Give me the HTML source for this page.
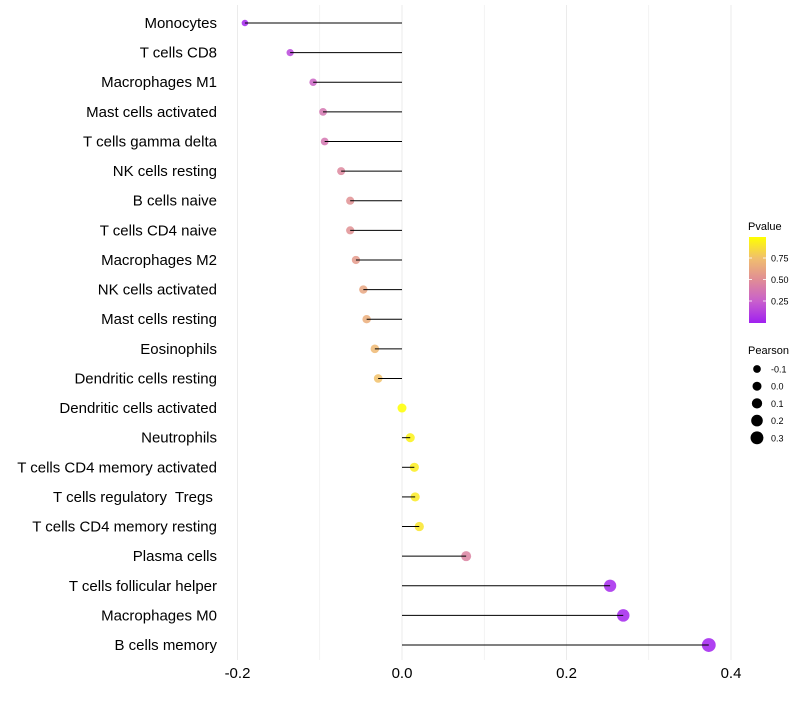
<!DOCTYPE html>
<html><head><meta charset="utf-8"><style>
body{margin:0;background:#fff;font-family:"Liberation Sans",sans-serif;}
text{white-space:pre;}
</style></head><body>
<svg id="chart" width="800" height="700" xmlns="http://www.w3.org/2000/svg"></svg>
<script>
const categories=["Monocytes","T cells CD8","Macrophages M1","Mast cells activated","T cells gamma delta","NK cells resting","B cells naive","T cells CD4 naive","Macrophages M2","NK cells activated","Mast cells resting","Eosinophils","Dendritic cells resting","Dendritic cells activated","Neutrophils","T cells CD4 memory activated","T cells regulatory  Tregs ","T cells CD4 memory resting","Plasma cells","T cells follicular helper","Macrophages M0","B cells memory"];
const pearson=[-0.191,-0.136,-0.108,-0.096,-0.094,-0.074,-0.063,-0.063,-0.056,-0.047,-0.043,-0.033,-0.029,0.0,0.01,0.015,0.016,0.021,0.078,0.253,0.269,0.373];
const pvalues=[0.02,0.15,0.28,0.38,0.38,0.47,0.52,0.52,0.57,0.63,0.67,0.72,0.76,1.0,0.95,0.93,0.92,0.9,0.45,0.03,0.02,0.005];
const xTicks=[-0.2,0,0.2,0.4];
const xTickLabels=["-0.2","0.0","0.2","0.4"];
const colorTicks=[0.25,0.5,0.75];
const sizeLegend=[-0.1,0,0.1,0.2,0.3];

const svg=document.getElementById('chart');
const NS="http://www.w3.org/2000/svg";
function mk(t,a,parent){const e=document.createElementNS(NS,t);for(const k in a)e.setAttribute(k,a[k]);(parent||svg).appendChild(e);return e;}
const xScale=v=>402+v*822.5;
const yScale=i=>23+i*29.62;
const rScale=v=>Math.max(1.5,4.5+v*6.5);
const stops=[[0,[160,32,240]],[0.25,[200,95,205]],[0.5,[224,140,150]],[0.75,[240,190,110]],[1,[255,255,0]]];
function col(p){for(let i=1;i<stops.length;i++){if(p<=stops[i][0]){const a=stops[i-1],b=stops[i];const t=(p-a[0])/(b[0]-a[0]);const c=a[1].map((v,k)=>Math.round(v+(b[1][k]-v)*t));return `rgb(${c})`;}}return 'rgb(255,255,0)';}

[-0.3,-0.2,-0.1,0,0.1,0.2,0.3,0.4,0.5].forEach(v=>{const x=xScale(v);if(x<226||x>785)return;
const g=mk('line',{x1:x,x2:x,y1:5,y2:660,stroke:'#ebebeb','stroke-width':xTicks.includes(v)?1:0.6});

});

categories.forEach((c,i)=>{const y=yScale(i);
const t=mk('text',{x:217,y:y+5,'text-anchor':'end','font-size':15,fill:'#000','xml:space':'preserve'});t.textContent=c;


const d=mk('circle',{cx:xScale(pearson[i]),cy:y,r:rScale(pearson[i]),fill:col(pvalues[i]),'fill-opacity':0.85});


const l=mk('line',{x1:xScale(0),x2:xScale(pearson[i]),y1:y,y2:y,stroke:'#000','stroke-width':1});

});

xTicks.forEach((v,i)=>{const t=mk('text',{x:xScale(v),y:678,'text-anchor':'middle','font-size':15,fill:'#000'});t.textContent=xTickLabels[i];

});

const lt=mk('text',{x:748,y:230,'font-size':11,fill:'#000'});lt.textContent='Pvalue';


const defs=mk('defs',{});const grad=mk('linearGradient',{id:'pg',x1:0,y1:1,x2:0,y2:0},defs);
stops.forEach(s=>mk('stop',{offset:s[0],'stop-color':col(s[0])},grad));
const cb=mk('rect',{x:749,y:237,width:17,height:86,fill:'url(#pg)'});


colorTicks.forEach(v=>{const y=322.5-v*86;
mk('line',{x1:749,x2:752,y1:y,y2:y,stroke:'#fff','stroke-width':0.8});mk('line',{x1:763,x2:766,y1:y,y2:y,stroke:'#fff','stroke-width':0.8});
const t=mk('text',{x:771,y:y+3.5,'font-size':9,fill:'#000'});t.textContent=v.toFixed(2);

});

const st=mk('text',{x:748,y:354,'font-size':11,fill:'#000'});st.textContent='Pearson';


sizeLegend.forEach((v,i)=>{const y=369+i*17.2;
const c=mk('circle',{cx:757,cy:y,r:rScale(v),fill:'#000'});


const t=mk('text',{x:771,y:y+3.5,'font-size':9,fill:'#000'});t.textContent=v.toFixed(1);

});
</script>
</body></html>
